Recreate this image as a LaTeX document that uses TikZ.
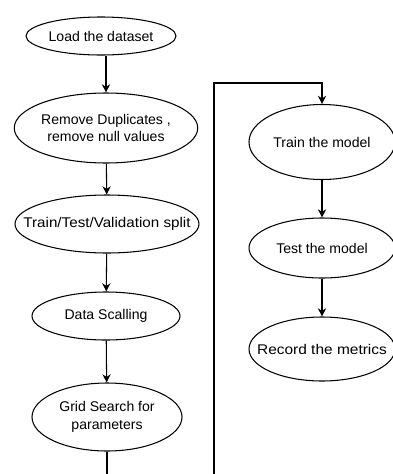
\documentclass[tikz,border=0pt]{standalone}
\usepackage{fontspec}
\usepackage{graphicx}
\setmainfont{Liberation Sans}
\usetikzlibrary{shapes.geometric, arrows.meta, positioning}

\newdimen\pxunit
\pxunit=0.03cm

\tikzset{
   step ellipse/.style={ellipse, draw, line width=0.9pt, inner sep=0pt,
      font=\fontsize{12}{15}\selectfont},
   two lines/.style={align=center},
   flow/.style={-{Stealth[length=7pt, width=7pt]}, line width=0.9pt}
}

\begin{document}
\begin{tikzpicture}[x=0.03cm, y=-0.03cm]
            % Frame
            \useasboundingbox (0,0) rectangle (393,474);
            \clip (0,0) rectangle (393,474);
            \fill[white] (0,0) rectangle (393,474);
            % Left column
            \node[step ellipse, minimum width=150\pxunit, minimum height=38\pxunit] (load) at (101,36) {Load the dataset};
            \node[step ellipse, two lines, minimum width=182\pxunit, minimum height=70\pxunit] (dup) at (106,128) {Remove Duplicates ,\\remove null values};
            \node[step ellipse, minimum width=184\pxunit, minimum height=58\pxunit] (split) at (107,224)
               {\makebox[0pt]{\scalebox{1.08}[1]{Train/Test/Validation split}}};
            \node[step ellipse, minimum width=148\pxunit, minimum height=48\pxunit] (scale) at (106,316) {Data Scalling};
            \node[step ellipse, two lines, minimum width=150\pxunit, minimum height=68\pxunit] (grid) at (107,417) {Grid Search for\\parameters};
            % Right column
            \node[step ellipse, minimum width=146\pxunit, minimum height=75\pxunit] (train) at (322,142) {Train the model};
            \node[step ellipse, minimum width=146\pxunit, minimum height=60\pxunit] (test) at (322,248) {Test the model};
            \node[step ellipse, minimum width=146\pxunit, minimum height=64\pxunit] (record) at (322,349)
               {\makebox[0pt]{\scalebox{1.1}[1]{Record the metrics}}};
            % Arrows down the columns
            \draw[flow] (load.south -| dup.north) -- (dup.north);
            \draw[flow] (dup) -- (split);
            \draw[flow] (split) -- (scale);
            \draw[flow] (scale) -- (grid);
            \draw[flow] (train) -- (test);
            \draw[flow] (test) -- (record);
            % Loop from grid search over to training (runs below the frame)
            \coordinate (loopbottom) at (0,500);
            \coordinate (loopcorner) at (214,83);
            \draw[flow] (grid.south) -- (grid.south |- loopbottom) -| (loopcorner) -| (train.north);
         \end{tikzpicture}
\end{document}
